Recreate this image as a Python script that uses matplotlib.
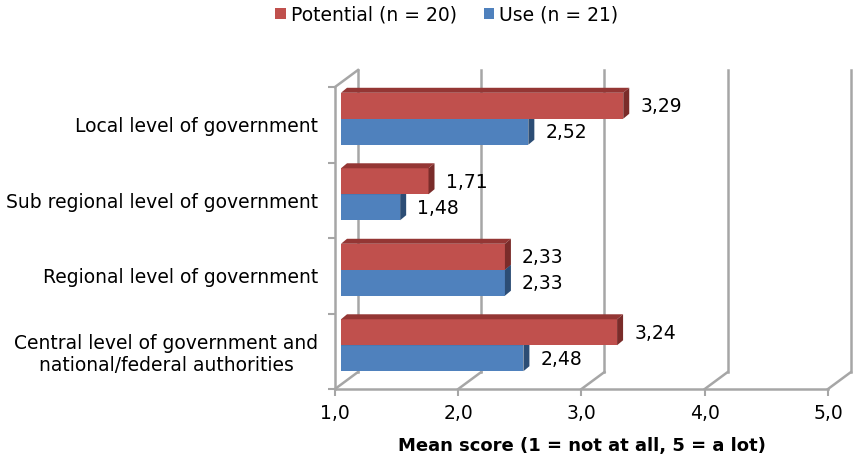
import matplotlib.pyplot as plt
from matplotlib.patches import Polygon, Patch
from matplotlib.lines import Line2D
from matplotlib.transforms import ScaledTranslation, IdentityTransform

categories = ['Local level of government',
              'Sub regional level of government',
              'Regional level of government',
              'Central level of government and\nnational/federal authorities']
potential = [3.29, 1.71, 2.33, 3.24]
use = [2.52, 1.48, 2.33, 2.48]
xticks = [1.0, 2.0, 3.0, 4.0, 5.0]
series_labels = ['Potential (n = 20)', 'Use (n = 21)']
xlabel = 'Mean score (1 = not at all, 5 = a lot)'

RED, RED_TOP, RED_SIDE = '#c0504d', '#943634', '#7a2c2a'
BLUE, BLUE_TOP, BLUE_SIDE = '#4f81bd', '#3a6395', '#2c4d75'
GRID = '#a6a6a6'
FS = 13.5

W, H = 854, 459
DX, DY = 23, 17      # depth of the 3d box, pixels
SX, SY = 6, 6        # bars sit a bit into the box
BX, BY = 6, 5        # bar depth
BH = 0.344           # bar height (one series)

plt.rcParams['font.family'] = 'DejaVu Sans'
fig = plt.figure(figsize=(W / 100, H / 100), dpi=100)
ax = fig.add_axes([335 / W, (H - 389) / H, (828 - 335) / W, (389 - 87) / H])
n = len(categories)
ax.set_xlim(xticks[0], xticks[-1])
ax.set_ylim(n - 0.5, -0.5)

ident = IdentityTransform()


def px(x, y):
    return ax.transData.transform((x, y))


def seg(p, q):
    ax.add_line(Line2D([p[0], q[0]], [p[1], q[1]], transform=ident,
                       color=GRID, lw=1.8, clip_on=False, zorder=1))


# back walls / floor of the 3d box
bottom = px(1, n - 0.5)[1]
top = px(1, -0.5)[1]
for xv in xticks:
    xd = px(xv, 0)[0]
    seg((xd, bottom), (xd + DX, bottom + DY))
    seg((xd + DX, bottom + DY), (xd + DX, top + DY))
x1d = px(xticks[0], 0)[0]
seg((x1d, top), (x1d + DX, top + DY))

for s in ['top', 'right']:
    ax.spines[s].set_visible(False)
for s in ['left', 'bottom']:
    ax.spines[s].set_color(GRID)
    ax.spines[s].set_linewidth(1.8)

ax.set_xticks(xticks)
ax.set_xticklabels([f'{v:.1f}'.replace('.', ',') for v in xticks])
ax.tick_params(axis='x', length=5, width=1.5, color=GRID, pad=6, labelsize=FS)
ax.set_yticks([i - 0.5 for i in range(n + 1)])
ax.set_yticklabels([])
ax.set_yticks(range(n), minor=True)
ax.set_yticklabels(categories, minor=True)
ax.tick_params(axis='y', which='major', length=5, width=1.5, color=GRID)
ax.tick_params(axis='y', which='minor', length=0, pad=12, labelsize=FS)
for lab in ax.get_yticklabels(minor=True):
    lab.set_multialignment('center')
ax.set_xlabel(xlabel, fontweight='bold', fontsize=13, labelpad=10)
ax.set_facecolor('none')

shift = ax.transData + ScaledTranslation(SX / 100, SY / 100, fig.dpi_scale_trans)


def bar3d(values, offset, front, topc, side, z):
    ys = [i + offset for i in range(n)]
    ax.barh(ys, [v - 1 for v in values], left=1, height=BH, color=front,
            transform=shift, zorder=z)
    for v, yc in zip(values, ys):
        x0 = px(1, yc)[0] + SX
        x1 = px(v, yc)[0] + SX
        ya = px(v, yc - BH / 2)[1] + SY
        yb = px(v, yc + BH / 2)[1] + SY
        yt, ybt = max(ya, yb), min(ya, yb)
        ax.add_patch(Polygon([(x0, yt), (x1, yt), (x1 + BX, yt + BY), (x0 + BX, yt + BY)],
                             closed=True, transform=ident, color=topc, zorder=z, lw=0))
        ax.add_patch(Polygon([(x1, ybt), (x1 + BX, ybt + BY), (x1 + BX, yt + BY), (x1, yt)],
                             closed=True, transform=ident, color=side, zorder=z, lw=0))
        ax.annotate(f'{v:.2f}'.replace('.', ','), xy=(v, yc), xytext=(23, SY - 1),
                    textcoords='offset pixels', ha='left', va='center',
                    fontsize=FS, zorder=z + 1)


bar3d(use, BH / 2, BLUE, BLUE_TOP, BLUE_SIDE, 3)
bar3d(potential, -BH / 2, RED, RED_TOP, RED_SIDE, 4)

handles = [Patch(facecolor=RED), Patch(facecolor=BLUE)]
fig.legend(handles, series_labels, loc='upper center', bbox_to_anchor=(447 / W, 1.005),
           ncol=2, frameon=False, fontsize=FS, handlelength=0.55, handleheight=0.55,
           handletextpad=0.3, columnspacing=1.4, borderaxespad=0.0)

fig.savefig('out.png', dpi=100)
